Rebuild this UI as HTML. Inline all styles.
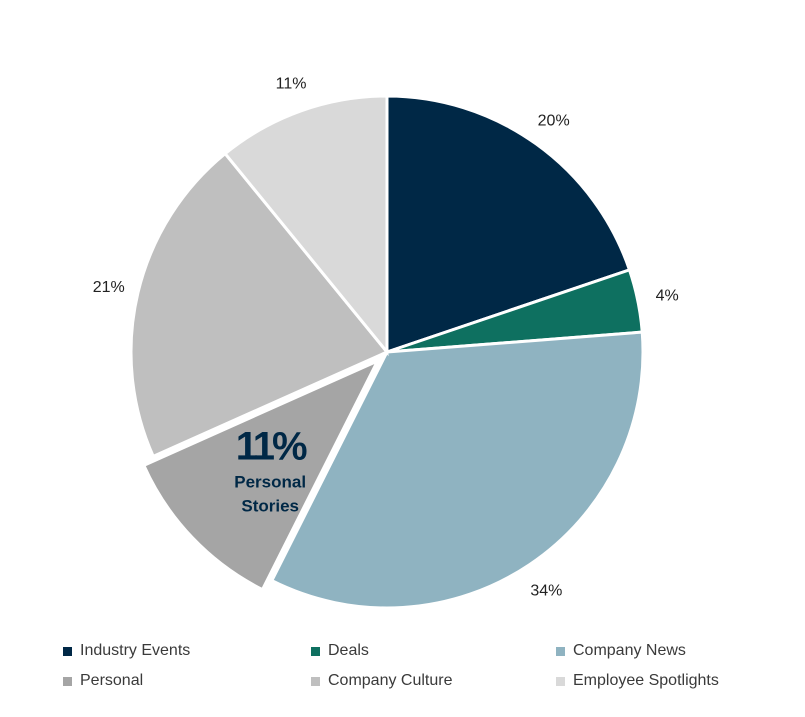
<!DOCTYPE html>
<html><head><meta charset="utf-8">
<style>
body{margin:0;background:#fff;font-family:"Liberation Sans",sans-serif;}
#wrap{position:relative;width:805px;height:717px;overflow:hidden;}
.leg{position:absolute;font-size:16px;color:#3a3a3a;display:flex;align-items:center;}
.leg i{display:inline-block;width:9px;height:9px;margin-right:8px;}
</style></head><body>
<div id="wrap">
<svg id="pie" width="805" height="717"></svg>
<div class="leg" style="left:63px;top:642px"><i style="background:#002846"></i>Industry Events</div>
<div class="leg" style="left:311px;top:642px"><i style="background:#0e7060"></i>Deals</div>
<div class="leg" style="left:556px;top:642px"><i style="background:#8fb3c1"></i>Company News</div>
<div class="leg" style="left:63px;top:672px"><i style="background:#a5a5a5"></i>Personal</div>
<div class="leg" style="left:311px;top:672px"><i style="background:#bfbfbf"></i>Company Culture</div>
<div class="leg" style="left:556px;top:672px"><i style="background:#d9d9d9"></i>Employee Spotlights</div>
</div>
<script>
const categories=["Industry Events","Deals","Company News","Personal","Company Culture","Employee Spotlights"];
const values=[20,4,34,11,21,11];
const colors=["#002846","#0e7060","#8fb3c1","#a5a5a5","#bfbfbf","#d9d9d9"];
const exploded=[0,0,0,1,0,0];
const svg=document.getElementById('pie');
const NS="http://www.w3.org/2000/svg";
const cx=387,cy=352,R=256;
const total=values.reduce((a,b)=>a+b,0);
function pt(a,r,ox,oy){return [cx+ox+r*Math.sin(a),cy+oy-r*Math.cos(a)];}
let start=0;
values.forEach((v,i)=>{
  const sweep=v/total*2*Math.PI, mid=start+sweep/2;
  const off=exploded[i]?13:0;
  const ox=off*Math.sin(mid), oy=-off*Math.cos(mid);
  const p1=pt(start,R,ox,oy), p2=pt(start+sweep,R,ox,oy);
  const path=document.createElementNS(NS,'path');
  path.setAttribute('d',`M${cx+ox},${cy+oy}L${p1[0]},${p1[1]}A${R},${R} 0 ${sweep>Math.PI?1:0} 1 ${p2[0]},${p2[1]}Z`);
  path.setAttribute('fill',colors[i]);
  path.setAttribute('stroke','#fff');
  path.setAttribute('stroke-width','3');
  
  
  svg.appendChild(path);
  if(exploded[i]){
    const lp=pt(mid,R*0.58,ox,oy);
    const t=document.createElementNS(NS,'text');
    t.setAttribute('x',lp[0]);t.setAttribute('y',lp[1]-4);
    t.setAttribute('text-anchor','middle');t.setAttribute('font-size','40');t.setAttribute('font-weight','bold');
    t.setAttribute('fill','#002846');t.setAttribute('letter-spacing','-3');
    t.textContent=v+'%';
    
    
    svg.appendChild(t);
    ['Personal','Stories'].forEach((w,k)=>{
      const s=document.createElementNS(NS,'text');
      s.setAttribute('x',lp[0]);s.setAttribute('y',lp[1]+24+k*24);
      s.setAttribute('text-anchor','middle');s.setAttribute('font-size','17');s.setAttribute('font-weight','bold');
      s.setAttribute('fill','#002846');s.textContent=w;
      
      
      svg.appendChild(s);
    });
  } else {
    const lp=pt(mid,R+30,0,0);
    const t=document.createElementNS(NS,'text');
    t.setAttribute('x',lp[0]);t.setAttribute('y',lp[1]+6);
    t.setAttribute('text-anchor','middle');t.setAttribute('font-size','16');t.setAttribute('fill','#222');
    t.textContent=v+'%';
    
    
    svg.appendChild(t);
  }
  start+=sweep;
});
</script>
</body></html>
